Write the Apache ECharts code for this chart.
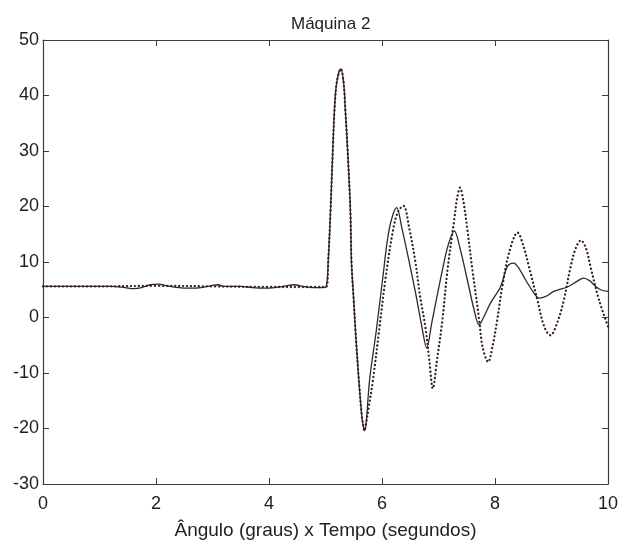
<!DOCTYPE html>
<html>
<head>
<meta charset="utf-8">
<title>Máquina 2</title>
<script src="https://cdn.jsdelivr.net/npm/echarts@6/dist/echarts.min.js"></script>
<style>
  html, body { margin: 0; padding: 0; background: #ffffff; }
  #chart { width: 621px; height: 547px; }
</style>
</head>
<body>
<div id="chart"></div>
<script>
// Rotor angle of machine 2 (degrees) against time (seconds), two simulated responses.

// Solid trace
const tSolid = [
  0, 0.6, 1.2, 1.45, 1.6, 1.75, 1.9, 2.05, 2.2, 2.4, 2.6, 2.8, 3.0, 3.1, 3.2, 3.5, 3.7, 3.9, 4.1, 4.3, 4.45, 4.6, 4.8, 4.95,
  5.01, 5.05, 5.09, 5.13, 5.16, 5.20, 5.27, 5.32, 5.35, 5.39, 5.44, 5.46, 5.50, 5.53, 5.59, 5.64, 5.66, 5.69, 5.72,
  5.78, 5.90, 6.01, 6.13, 6.26, 6.35, 6.48, 6.60, 6.71, 6.79, 6.88, 6.95, 7.07, 7.17, 7.28, 7.38, 7.51, 7.63, 7.72,
  7.82, 7.92, 8.10, 8.22, 8.33, 8.44, 8.54, 8.69, 8.78, 8.90, 9.04, 9.28, 9.45, 9.57, 9.68, 9.75, 9.87, 10.0
];
const vSolid = [
  5.6, 5.6, 5.6, 5.4, 5.2, 5.4, 5.9, 6.0, 5.7, 5.4, 5.3, 5.4, 5.8, 5.9, 5.6, 5.6, 5.4, 5.3, 5.4, 5.7, 5.9, 5.6, 5.4, 5.4,
  5.5, 10.5, 19.5, 30.4, 37.6, 42.4, 44.8, 42.4, 37.6, 30.4, 19.5, 10.0, 3.0, -2.3, -11.3, -17.5, -19.0, -20.4, -19.0,
  -11.3, -2.3, 6.8, 16.0, 19.8, 16.2, 10.1, 4.1, -1.9, -5.5, -1.0, 2.6, 8.6, 13.0, 15.6, 12.5, 6.8, 1.4, -1.3,
  0.5, 2.6, 5.6, 9.2, 9.8, 8.6, 6.8, 4.4, 3.5, 3.8, 4.7, 5.5, 6.5, 7.1, 6.6, 5.9, 5.0, 4.7
];

// Dotted trace
const tDotted = [
  0, 1.0, 2.0, 3.0, 4.0, 4.6,
  5.01, 5.05, 5.09, 5.13, 5.16, 5.20, 5.27, 5.32, 5.35, 5.39, 5.44, 5.46, 5.50, 5.53, 5.59, 5.64, 5.66, 5.69, 5.72,
  5.76, 5.84, 5.95, 6.06, 6.20, 6.29, 6.38, 6.48, 6.59, 6.67, 6.77, 6.84, 6.90, 6.97, 7.07, 7.16, 7.28, 7.33, 7.38,
  7.44, 7.51, 7.60, 7.72, 7.78, 7.88, 7.96, 8.04, 8.13, 8.25, 8.40, 8.50, 8.60, 8.75, 8.87, 8.98, 9.10, 9.22, 9.34,
  9.43, 9.52, 9.61, 9.69, 9.84, 10.0
];
const vDotted = [
  5.6, 5.6, 5.7, 5.6, 5.5, 5.5,
  5.5, 10.5, 19.5, 30.4, 37.6, 42.4, 44.8, 42.4, 37.6, 30.4, 19.5, 10.0, 3.0, -2.3, -11.3, -17.5, -19.0, -20.4, -19.0,
  -16.5, -11.3, -2.3, 6.8, 16.0, 19.2, 20.1, 16.2, 10.1, 4.1, -1.9, -8.0, -12.8, -8.0, -0.4, 8.6, 17.7, 21.5, 23.4,
  21.0, 15.9, 8.6, -0.4, -5.3, -8.0, -5.0, -0.4, 5.6, 11.7, 15.3, 13.0, 9.2, 3.2, -1.6, -3.2, -1.0, 3.2, 9.2,
  12.5, 13.9, 12.5, 9.2, 3.2, -1.6
];

// Axis ranges and tick labels
const xTicks = [0, 2, 4, 6, 8, 10];
const yTicks = [-30, -20, -10, 0, 10, 20, 30, 40, 50];

const pairs = (ts, vs) => ts.map((t, i) => [t, vs[i]]);

const FONT = '"Liberation Sans", Arial, Helvetica, sans-serif';
const INK = '#222222';
const FRAME = '#3c3c3c';

const tickStyle = { show: true, inside: true, length: 6, lineStyle: { color: FRAME, width: 1 } };
const lineStyleAxis = { show: true, onZero: false, lineStyle: { color: FRAME, width: 1.2 } };

const xStep = xTicks[1] - xTicks[0];
const yStep = yTicks[1] - yTicks[0];

const chart = echarts.init(document.getElementById('chart'), null, { renderer: 'canvas' });

chart.setOption({
  animation: false,
  backgroundColor: '#ffffff',
  title: {
    text: 'Máquina 2',
    left: 286,
    top: 11,
    textStyle: { fontFamily: FONT, fontSize: 17, fontWeight: 'normal', color: INK }
  },
  grid: { left: 43, right: 11, top: 40, bottom: 63, containLabel: false },
  xAxis: [
    {
      type: 'value',
      position: 'bottom',
      min: xTicks[0], max: xTicks[xTicks.length - 1], interval: xStep,
      axisLine: lineStyleAxis,
      axisTick: tickStyle,
      splitLine: { show: false },
      axisLabel: { color: INK, fontFamily: FONT, fontSize: 18, margin: 11 },
      name: 'Ângulo (graus) x Tempo (segundos)',
      nameLocation: 'middle',
      nameGap: 37,
      nameTextStyle: { color: INK, fontFamily: FONT, fontSize: 19 }
    },
    {
      type: 'value',
      position: 'top',
      min: xTicks[0], max: xTicks[xTicks.length - 1], interval: xStep,
      axisLine: lineStyleAxis,
      axisTick: tickStyle,
      splitLine: { show: false },
      axisLabel: { show: false }
    }
  ],
  yAxis: [
    {
      type: 'value',
      position: 'left',
      min: yTicks[0], max: yTicks[yTicks.length - 1], interval: yStep,
      axisLine: lineStyleAxis,
      axisTick: tickStyle,
      splitLine: { show: false },
      axisLabel: { color: INK, fontFamily: FONT, fontSize: 18, margin: 4 }
    },
    {
      type: 'value',
      position: 'right',
      min: yTicks[0], max: yTicks[yTicks.length - 1], interval: yStep,
      axisLine: lineStyleAxis,
      axisTick: tickStyle,
      splitLine: { show: false },
      axisLabel: { show: false }
    }
  ],
  series: [
    {
      name: 'contínua',
      type: 'line',
      xAxisIndex: 0, yAxisIndex: 0,
      data: pairs(tSolid, vSolid),
      showSymbol: false,
      smooth: 0.35,
      lineStyle: { color: '#2f2828', width: 1.3 },
      z: 2
    },
    {
      name: 'pontilhada',
      type: 'line',
      xAxisIndex: 0, yAxisIndex: 0,
      data: pairs(tDotted, vDotted),
      showSymbol: false,
      smooth: 0.35,
      lineStyle: { color: '#3a1f1f', width: 2.3, type: [0.1, 3.9], cap: 'round' },
      z: 3
    }
  ]
});
</script>
</body>
</html>
